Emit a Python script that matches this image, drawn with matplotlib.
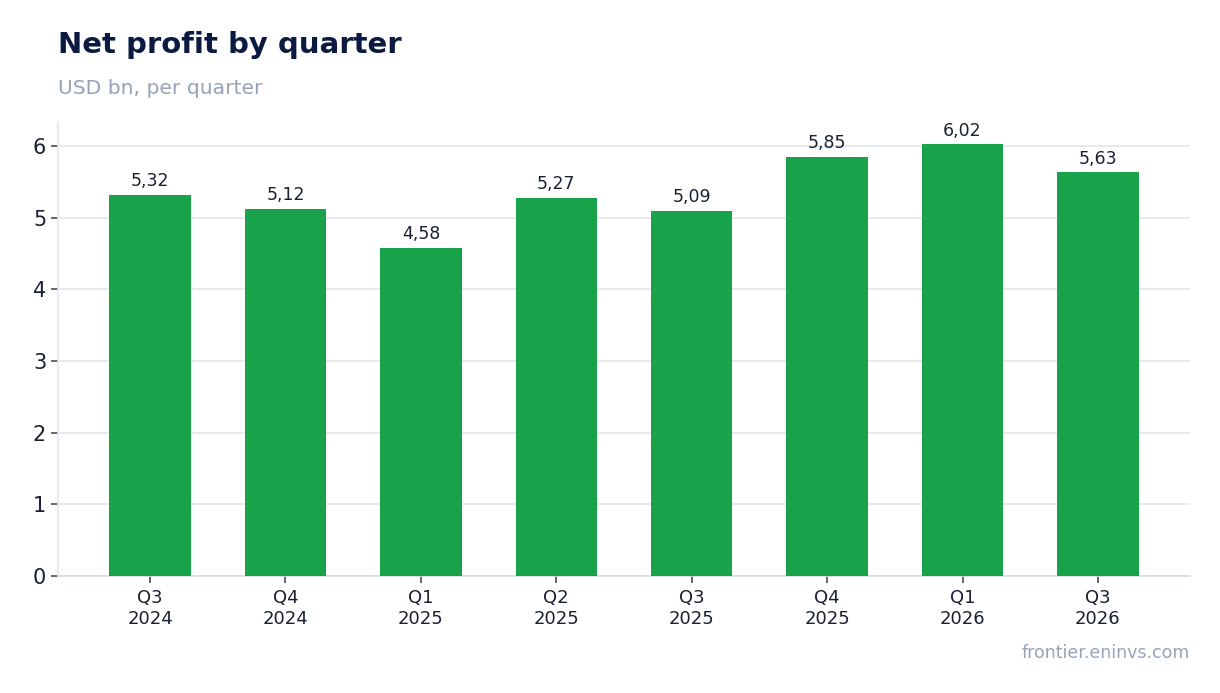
import matplotlib
matplotlib.use("Agg")
import matplotlib.pyplot as plt
import numpy as np

quarters = ["Q3\n2024", "Q4\n2024", "Q1\n2025", "Q2\n2025", "Q3\n2025", "Q4\n2025", "Q1\n2026", "Q3\n2026"]
profit = [5.32, 5.12, 4.58, 5.27, 5.09, 5.85, 6.02, 5.63]
labels = [f"{v:.2f}".replace(".", ",") for v in profit]

plt.rcParams['font.family'] = ['DejaVu Sans']
fig = plt.figure(figsize=(12.2, 6.93), dpi=100)
W, H = 1220, 693
ax = fig.add_axes([58 / W, 1 - 576 / H, (1190 - 58) / W, (576 - 122) / H])

x = np.arange(len(quarters))
ax.bar(x, profit, width=0.6, color="#18a34a", zorder=3)
for xi, v, lab in zip(x, profit, labels):
    ax.annotate(lab, (xi, v), xytext=(0, 3.5), textcoords="offset points",
                ha="center", va="bottom", fontsize=12.5, color="#1a2033")

ax.set_xlim(-0.68, len(quarters) - 1 + 0.68)
ax.set_ylim(0, max(profit) * 1.052)
ax.set_xticks(x)
ax.set_xticklabels(quarters)
ax.set_yticks(range(0, 7))
ax.tick_params(axis="x", labelsize=13, colors="#1a2033", length=5, width=1.2, color="#444c5c", pad=4.5)
ax.tick_params(axis="y", labelsize=15, colors="#1a2033", length=5, width=1.2, color="#444c5c")
ax.grid(axis="y", color="#e3e7ef", linewidth=1.2, zorder=0)
for s in ["top", "right"]:
    ax.spines[s].set_visible(False)
ax.spines["left"].set_color("#e3e7ef")
ax.spines["bottom"].set_color("#d4d9e3")
ax.spines["left"].set_linewidth(1.2)
ax.spines["bottom"].set_linewidth(1.2)

fig.text(58 / W, 1 - 53 / H, "Net profit by quarter", fontsize=21, fontweight="bold",
         color="#0b1a40", ha="left", va="baseline")
fig.text(58 / W, 1 - 94 / H, "USD bn, per quarter", fontsize=14.6, color="#97a3b8",
         ha="left", va="baseline")
fig.text(1190 / W, 1 - 658 / H, "frontier.eninvs.com", fontsize=12.5, color="#97a3b8",
         ha="right", va="baseline")

fig.savefig("out.png", dpi=100)
